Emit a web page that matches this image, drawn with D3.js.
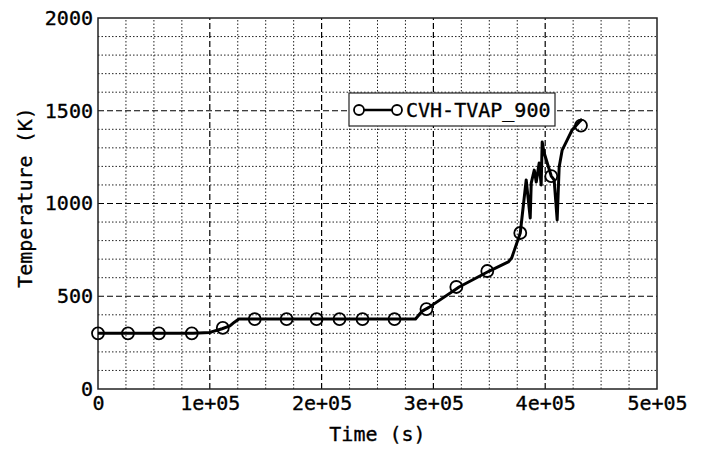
<!DOCTYPE html>
<html><head><meta charset="utf-8">
<script src="https://cdn.jsdelivr.net/npm/d3@7"></script>
<style>body{margin:0;background:#fff}svg{display:block}</style>
</head><body>
<script>
const lineTime = [0,85000,100000,111000,118000,122000,126000,284000,290000,296000,323000,350000,367000,370000,372500,377700,379500,383000,386600,387500,390200,392000,394600,396400,397300,399100,405400,408000,410700,412500,415200,419600,424100,430400,433000];
const lineTemp = [300,300,305,325,340,360,377,377,420,440,550,636,685,706,750,841,938,1127,922,1110,1180,1116,1218,1100,1332,1272,1148,1127,911,1197,1288,1342,1396,1439,1455];
const markerTime = [0,26800,54500,83900,111600,140200,168700,195500,216000,236600,265200,293800,320500,348200,377700,405400,432000];
const markerTemp = [300,300,300,300,329,377,377,377,377,377,377,431,550,636,841,1148,1420];
const xTicks = [0,100000,200000,300000,400000,500000];
const xTickLabels = ["0","1e+05","2e+05","3e+05","4e+05","5e+05"];
const yTicks = [0,500,1000,1500,2000];
const seriesName = "CVH-TVAP_900";

const W=708,H=451;
const m={l:98,r:51,t:18,b:62};
const svg=d3.select("body").append("svg").attr("width",W).attr("height",H);
const x=d3.scaleLinear().domain([0,500000]).range([m.l,W-m.r]);
const y=d3.scaleLinear().domain([0,2000]).range([H-m.b,m.t]);
const font="'DejaVu Sans Mono', monospace";
const txtStroke=0.35;

// minor grid
const g=svg.append("g");
d3.range(25000,500000,25000).filter(v=>v%100000!==0).forEach(v=>{
  g.append("line").attr("x1",x(v)).attr("x2",x(v)).attr("y1",y(0)).attr("y2",y(2000))
   .attr("stroke","#222").attr("stroke-width",1).attr("stroke-dasharray","1.5,2");
});
d3.range(100,2000,100).filter(v=>v%500!==0).forEach(v=>{
  g.append("line").attr("x1",x(0)).attr("x2",x(500000)).attr("y1",y(v)).attr("y2",y(v))
   .attr("stroke","#222").attr("stroke-width",1).attr("stroke-dasharray","1.5,2");
});
// major grid
xTicks.slice(1,-1).forEach(v=>{
  g.append("line").attr("x1",x(v)).attr("x2",x(v)).attr("y1",y(0)).attr("y2",y(2000))
   .attr("stroke","#000").attr("stroke-width",1.2).attr("stroke-dasharray","6,3");
});
yTicks.slice(1,-1).forEach(v=>{
  g.append("line").attr("x1",x(0)).attr("x2",x(500000)).attr("y1",y(v)).attr("y2",y(v))
   .attr("stroke","#000").attr("stroke-width",1.2).attr("stroke-dasharray","6,3");
});

// frame
svg.append("rect").attr("x",x(0)).attr("y",y(2000)).attr("width",x(500000)-x(0)).attr("height",y(0)-y(2000))
  .attr("fill","none").attr("stroke","#222").attr("stroke-width",1.5);

// axes
const xa=svg.append("g").attr("transform",`translate(0,${y(0)})`)
  .call(d3.axisBottom(x).tickValues(xTicks).tickFormat((d,i)=>xTickLabels[i]).tickSize(0).tickPadding(7));
xa.select(".domain").remove();
xa.selectAll("text").attr("font-family",font).attr("font-size",20).attr("fill","#000")
  .attr("stroke","#000").attr("stroke-width",txtStroke);
const ya=svg.append("g").attr("transform",`translate(${x(0)},0)`)
  .call(d3.axisLeft(y).tickValues(yTicks).tickFormat(d3.format("d")).tickSize(0).tickPadding(5));
ya.select(".domain").remove();
ya.selectAll("text").attr("font-family",font).attr("font-size",20).attr("fill","#000")
  .attr("stroke","#000").attr("stroke-width",txtStroke);

// labels
svg.append("text").attr("x",(x(0)+x(500000))/2).attr("y",441).attr("text-anchor","middle")
  .attr("font-family",font).attr("font-size",20).attr("stroke","#000").attr("stroke-width",txtStroke).text("Time (s)");
svg.append("text").attr("transform",`translate(32,${(y(0)+y(2000))/2 - 6}) rotate(-90)`).attr("text-anchor","middle")
  .attr("font-family",font).attr("font-size",20).attr("stroke","#000").attr("stroke-width",txtStroke).text("Temperature (K)");

// series
const pts=lineTime.map((t,i)=>[t,lineTemp[i]]);
svg.append("path").datum(pts).attr("fill","none").attr("stroke","#000").attr("stroke-width",3)
  .attr("stroke-linejoin","round")
  .attr("d",d3.line().x(d=>x(d[0])).y(d=>y(d[1])));
svg.append("g").selectAll("circle").data(markerTime.map((t,i)=>[t,markerTemp[i]])).join("circle")
  .attr("cx",d=>x(d[0])).attr("cy",d=>y(d[1])).attr("r",6)
  .attr("fill","none").attr("stroke","#000").attr("stroke-width",1.8);

// legend
const lg=svg.append("g");
lg.append("rect").attr("x",349).attr("y",93).attr("width",206).attr("height",33)
  .attr("fill","#fff").attr("stroke","#222").attr("stroke-width",1.2);
lg.append("line").attr("x1",359).attr("x2",397).attr("y1",110).attr("y2",110).attr("stroke","#000").attr("stroke-width",2.5);
[359,397].forEach(cx=>lg.append("circle").attr("cx",cx).attr("cy",110).attr("r",5)
  .attr("fill","#fff").attr("stroke","#000").attr("stroke-width",1.8));
lg.append("text").attr("x",406).attr("y",117).attr("font-family",font).attr("font-size",20)
  .attr("stroke","#000").attr("stroke-width",txtStroke).text(seriesName);
</script>
</body></html>
